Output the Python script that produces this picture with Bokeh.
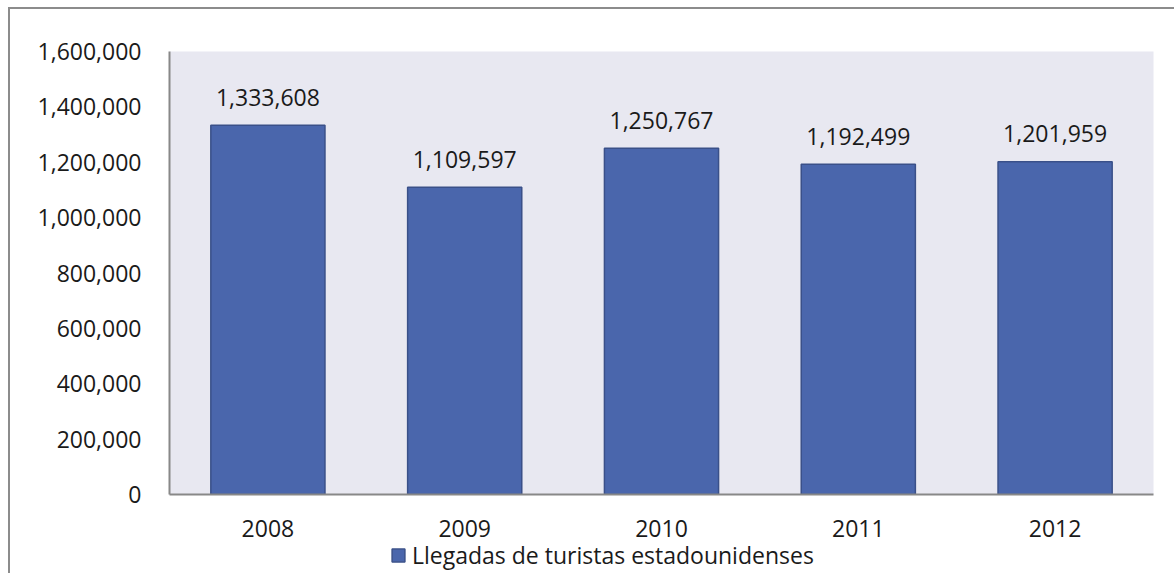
from bokeh.plotting import figure
from bokeh.layouts import column
from bokeh.models import (FactorRange, Range1d, FixedTicker, NumeralTickFormatter,
                          Legend, LegendItem, ColumnDataSource)
from bokeh.core.properties import value
from bokeh.embed import file_html
from bokeh.resources import INLINE

years = ["2008", "2009", "2010", "2011", "2012"]
arrivals = [1333608, 1109597, 1250767, 1192499, 1201959]
y_ticks = [0, 200000, 400000, 600000, 800000, 1000000, 1200000, 1400000, 1600000]
series_name = "Llegadas de turistas estadounidenses"

FONT = "Open Sans"
FS = "23px"
TXT = "#1a1a1a"
BAR_FILL = "#4a66ac"
BAR_LINE = "#3a5089"

src = ColumnDataSource(dict(
    x=years, y=arrivals,
    lbl=[f"{v:,}" for v in arrivals],
))

p = figure(x_range=FactorRange(*years, range_padding=0),
           y_range=Range1d(0, 1600000),
           frame_width=984, frame_height=443,
           output_backend="svg", toolbar_location=None,
           min_border_left=159, min_border_top=42,
           min_border_right=21, min_border_bottom=48)

p.background_fill_color = "#e8e8f1"
p.border_fill_color = "white"
p.outline_line_color = None
p.xgrid.grid_line_color = None
p.ygrid.grid_line_color = None

r = p.vbar(x="x", top="y", width=0.58, source=src,
           fill_color=BAR_FILL, line_color=BAR_LINE, line_width=1.5)

p.text(x="x", y="y", text="lbl", source=src, y_offset=-28,
       text_align="center", text_baseline="alphabetic",
       text_font=value(FONT), text_font_size=FS, text_color=TXT)

yax = p.yaxis[0]
yax.ticker = FixedTicker(ticks=y_ticks)
yax.formatter = NumeralTickFormatter(format="0,0")
yax.axis_line_color = "#888888"
yax.axis_line_width = 2
yax.major_tick_line_color = None
yax.minor_tick_line_color = None
yax.major_tick_out = 0
yax.major_tick_in = 0
yax.major_label_standoff = 28
yax.major_label_text_font = FONT
yax.major_label_text_font_size = FS
yax.major_label_text_color = TXT

xax = p.xaxis[0]
xax.axis_line_color = "#888888"
xax.axis_line_width = 2
xax.major_tick_line_color = None
xax.minor_tick_line_color = None
xax.major_tick_out = 0
xax.major_tick_in = 0
xax.major_label_standoff = 25
xax.major_label_text_font = FONT
xax.major_label_text_font_size = FS
xax.major_label_text_color = TXT

# legend strip under the chart
p2 = figure(width=1164, height=31, x_range=Range1d(0, 1), y_range=Range1d(0, 1),
            x_axis_type=None, y_axis_type=None,
            output_backend="svg", toolbar_location=None, min_border=0)
p2.outline_line_color = None
p2.background_fill_color = "white"
p2.border_fill_color = "white"
p2.grid.visible = False
r2 = p2.vbar(x="x", top="y", width=0.5, source=src, fill_color=BAR_FILL,
             line_color=BAR_LINE, line_width=1.5, visible=False)
legend = Legend(items=[LegendItem(label=series_name, renderers=[r2])],
                location=(221, 2), orientation="horizontal",
                padding=0, margin=0, spacing=0,
                glyph_width=16, glyph_height=16, label_standoff=6,
                label_height=16,
                inactive_fill_alpha=0,
                background_fill_alpha=0, border_line_alpha=0,
                label_text_font=FONT, label_text_font_size=FS,
                label_text_color=TXT)
p2.add_layout(legend, "center")

layout = column(p, p2, spacing=0,
                styles={"border-top": "2px solid #8c8c8c",
                        "border-left": "2px solid #8c8c8c",
                        "margin-left": "8px", "margin-top": "7px"})

open("out.html", "w").write(file_html(layout, INLINE))
